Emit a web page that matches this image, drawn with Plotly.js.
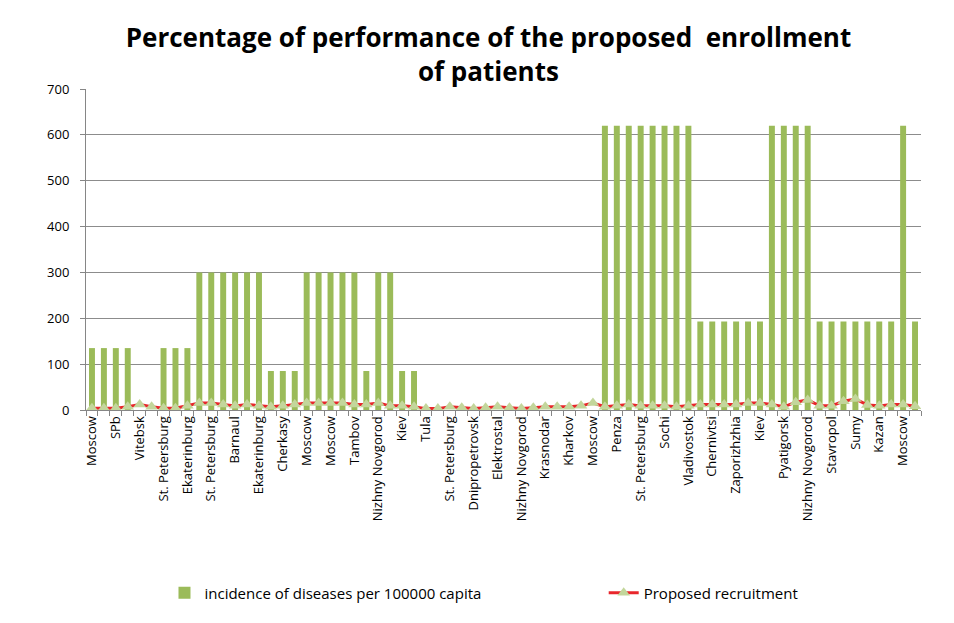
<!DOCTYPE html>
<html>
<head>
<meta charset="utf-8">
<script src="https://cdn.plot.ly/plotly-3.0.1.min.js"></script>
<style>html,body{margin:0;padding:0;background:#fff;}#chart{width:954px;height:623px;}</style>
</head>
<body>
<div id="chart"></div>
<script>
// Tick labels: one for every second category (even positions 0, 2, ..., 68)
const tickLabels = ["Moscow","SPb","Vitebsk","St. Petersburg","Ekaterinburg","St. Petersburg","Barnaul","Ekaterinburg","Cherkasy","Moscow","Moscow","Tambov","Nizhny Novgorod","Kiev","Tula","St. Petersburg","Dnipropetrovsk","Elektrostal","Nizhny Novgorod","Krasnodar","Kharkov","Moscow","Penza","St. Petersburg","Sochi","Vladivostok","Chernivtsi","Zaporizhzhia","Kiev","Pyatigorsk","Nizhny Novgorod","Stavropol","Sumy","Kazan","Moscow"];

// incidence of diseases per 100000 capita (70 categories)
const incidence = [135,135,135,135,0,0,135,135,135,300,300,300,300,300,300,85,85,85,300,300,300,300,300,85,300,300,85,85,0,0,0,0,0,0,0,0,0,0,0,0,0,0,0,620,620,620,620,620,620,620,620,193,193,193,193,193,193,620,620,620,620,193,193,193,193,193,193,193,620,193];

// Proposed recruitment (70 categories)
const recruitment = [4,4,4,7,12,7,4,4,9,15,15,12,9,12,9,7,9,12,15,15,15,15,12,12,15,9,9,7,3,3,7,5,3,5,7,5,3,5,7,7,7,9,15,7,9,12,9,9,9,7,9,12,12,12,12,15,15,12,7,17,22,9,9,19,24,11,9,12,12,8];

const xIdx = incidence.map((_, i) => i);
const tickVals = tickLabels.map((_, i) => i * 2);

const font = "'Open Sans', sans-serif";

const traces = [
  {
    type: "bar",
    x: xIdx,
    y: incidence,
    name: "incidence of diseases per 100000 capita",
    marker: {color: "#9bbb59"},
    legend: "legend",
    hoverinfo: "y"
  },
  {
    type: "scatter",
    mode: "lines+markers",
    x: xIdx,
    y: recruitment,
    name: "Proposed recruitment",
    line: {color: "#e8262b", width: 3},
    marker: {symbol: "triangle-up", size: 11, color: "#c3d69b"},
    legend: "legend2",
    hoverinfo: "y"
  }
];

const legendFont = {family: font, size: 15, color: "#000"};

const layout = {
  width: 954,
  height: 623,
  margin: {l: 86, r: 33, t: 89, b: 213, autoexpand: false},
  paper_bgcolor: "#ffffff",
  plot_bgcolor: "#ffffff",
  font: {family: font, color: "#000"},
  title: {
    text: "<b>Percentage of performance of the proposed  enrollment<br>of patients</b>",
    x: 0.512, xanchor: "center",
    y: 0.925, yanchor: "middle",
    font: {family: font, size: 26, color: "#000"}
  },
  bargap: 0.5,
  showlegend: true,
  legend: {
    orientation: "h",
    x: 0.094, xanchor: "left",
    y: -0.57, yanchor: "middle",
    font: legendFont,
    itemwidth: 30
  },
  legend2: {
    orientation: "h",
    x: 0.62, xanchor: "left",
    y: -0.57, yanchor: "middle",
    font: legendFont,
    itemwidth: 30
  },
  xaxis: {
    type: "linear",
    range: [-0.5, 69.5],
    tickmode: "array",
    tickvals: tickVals,
    ticktext: tickLabels,
    tickangle: -90,
    ticks: "",
    tickfont: {family: font, size: 13, color: "#000"},
    showgrid: false,
    zeroline: false,
    showline: true,
    linecolor: "#868686",
    linewidth: 1,
    minor: {ticks: "outside", tick0: -0.5, dtick: 1, ticklen: 5, tickcolor: "#868686", showgrid: false},
    fixedrange: true
  },
  yaxis: {
    range: [0, 700],
    dtick: 100,
    tick0: 0,
    ticks: "outside",
    ticklen: 5,
    ticklabelstandoff: 8,
    tickcolor: "#868686",
    tickfont: {family: font, size: 13, color: "#000"},
    showgrid: true,
    gridcolor: "#8c8c8c",
    gridwidth: 1,
    zeroline: false,
    showline: true,
    linecolor: "#868686",
    linewidth: 1,
    fixedrange: true
  }
};

Plotly.newPlot("chart", traces, layout, {displayModeBar: false, staticPlot: true});
</script>
</body>
</html>
